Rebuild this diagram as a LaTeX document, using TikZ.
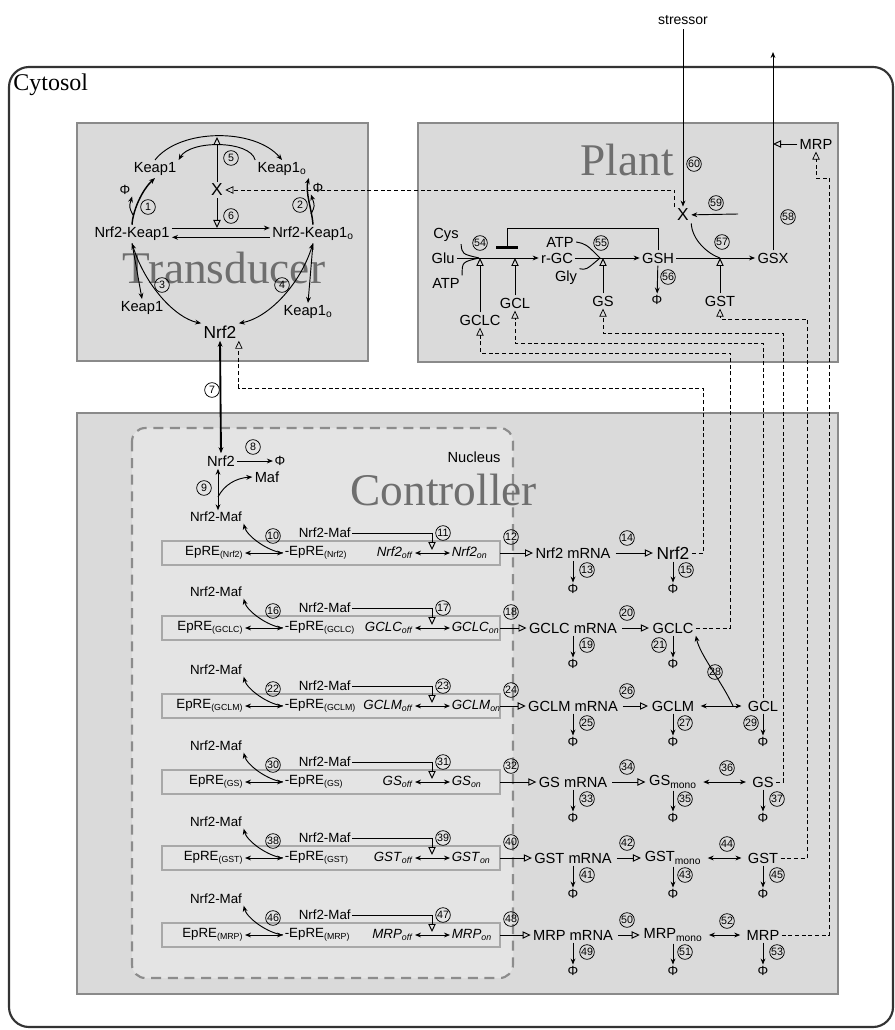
\documentclass[tikz,border=0pt]{standalone}
\usepackage{fontspec}
\setmainfont{Liberation Sans}
\newfontfamily\serifbig{Liberation Serif}
\usepackage{tikz}
\usetikzlibrary{arrows.meta}
\definecolor{panelfill}{HTML}{DADADA}
\definecolor{panelline}{HTML}{8A8A8A}
\definecolor{nucfill}{HTML}{E4E4E4}
\definecolor{nucline}{HTML}{8C8C8C}
\definecolor{rowline}{HTML}{A8A8A8}
\definecolor{biggray}{HTML}{6E6E6E}
\definecolor{cytoline}{HTML}{333333}
\newcommand{\lowsub}[1]{\textsubscript{\fontsize{6.6}{7}\selectfont #1}}
\tikzset{
    lbl/.style={inner sep=1.5pt, font=\fontsize{11}{12}\selectfont},
    rowtxt/.style={inner sep=1pt, font=\fontsize{10}{12}\selectfont},
    phi/.style={inner sep=1pt, font=\fontsize{10}{10}\selectfont},
    num/.style={circle, draw, line width=0.55pt, inner sep=0pt, minimum size=11pt, font=\fontsize{8}{8}\selectfont},
    act/.style={-{Triangle[open,length=6pt,width=5.5pt]}},
    dsh/.style={dashed, dash pattern=on 3pt off 2pt, line width=0.55pt},
    panel/.style={fill=panelfill, draw=panelline, line width=0.8pt},
    rowbox/.style={draw=rowline, line width=1.2pt},
    bigname/.style={text=biggray, inner sep=0pt, font=\serifbig\fontsize{34}{34}\selectfont},
}
\begin{document}
\begin{tikzpicture}[x=0.75pt, y=-0.75pt, >={Stealth[length=4.5pt,width=3.6pt]}, line width=0.7pt]
\useasboundingbox (0,0) rectangle (894,1030);

% compartments
\draw[line width=1.6pt, draw=cytoline, rounded corners=15pt] (9,67) rectangle (893,1027);
\node[anchor=west, inner sep=0pt, font=\serifbig\fontsize{18}{18}\selectfont] (cyto) at (13,85) {Cytosol};
\draw[panel] (77,123) rectangle (368,361);
\draw[panel] (418,123) rectangle (838,362);
\draw[panel] (77,413) rectangle (838,994);
\draw[dashed, dash pattern=on 7.5pt off 5pt, line width=1.6pt, draw=nucline, fill=nucfill, rounded corners=10pt] (132,428) rectangle (513,978);
\node[bigname] (tTrans) at (224,268) {Transducer};
\node[bigname] (tPlant) at (627,160) {Plant};
\node[bigname, anchor=west] (tCtrl) at (350,490) {Controller};
\node[lbl] (nucleus) at (474,457) {Nucleus};

% transducer
\node[lbl] (keapA) at (155,169) {Keap1};
\node[lbl] (keapB) at (282,169) {Keap1\textsubscript{o}};
\node[lbl] (nk) at (132,234) {Nrf2-Keap1};
\node[lbl] (nko) at (313,234) {Nrf2-Keap1\textsubscript{o}};
\node[lbl, font=\fontsize{13}{13}\selectfont] (xT) at (217,190) {X};
\node[lbl] (keapC) at (142,308) {Keap1};
\node[lbl] (keapD) at (308,312) {Keap1\textsubscript{o}};
\node[lbl, font=\fontsize{13}{13}\selectfont] (nrfT) at (220,332) {Nrf2};
\node[phi] (phiA) at (125,190) {Φ};
\node[phi] (phiB) at (318,188) {Φ};
\coordinate (r5) at (217,137);
\coordinate (d1) at (133,215);
\coordinate (d2) at (311,214);

\draw[->] (keapA.north) .. controls (180,128) and (255,128) .. (keapB.north);
\draw[->] (keapB.north west) .. controls (250,140) and (190,140) .. (keapA.north east);
\draw[act] (xT.north) -- (r5);
\draw[->] ([yshift=4.5pt]nk.east) -- ([yshift=4.5pt]nko.west);
\draw[->] ([yshift=-2.5pt]nko.west) -- ([yshift=-2.5pt]nk.east);
\draw[act] (xT.south) -- (xT.south |- 0,228);
\draw[->, line width=1.1pt] (nk.north) .. controls (133,210) and (142,190) .. (keapA.south);
\draw[->] (d1) .. controls (129,207) .. (phiA.south east);
\draw[->, line width=1.1pt] (nko.north) .. controls (312,210) and (305,192) .. (keapB.south east);
\draw[->] (d2) .. controls (315,206) .. (phiB.south west);
\draw[<->] (nk.south) .. controls (145,285) and (175,318) .. (nrfT.north west);
\draw[->] (nk.south) -- (keapC.north);
\draw[<->] (nko.south) .. controls (300,285) and (268,318) .. (nrfT.north east);
\draw[->] (nko.south) -- (keapD.north);
\node[num] at (148,207) {1};
\node[num] at (300,205) {2};
\node[num] at (162,285) {3};
\node[num] at (282,285) {4};
\node[num] at (231,158) {5};
\node[num] at (231,216) {6};

% plant
\node[font=\fontsize{10.5}{11}\selectfont] (stressor) at (683,20) {stressor};
\node[lbl, font=\fontsize{13}{13}\selectfont] (xP) at (683,215) {X};
\node[lbl] (cys) at (446,235) {Cys};
\node[lbl] (glu) at (443,258) {Glu};
\node[lbl] (atpA) at (446,283) {ATP};
\node[lbl] (rgc) at (557,258) {r-GC};
\node[lbl] (atpB) at (560,242) {ATP};
\node[lbl] (gly) at (566,278) {Gly};
\node[lbl] (gsh) at (658,258) {GSH};
\node[lbl] (gsx) at (773,258) {GSX};
\node[phi] (phiG) at (657,300) {Φ};
\node[lbl] (gclcP) at (480,320) {GCLC};
\node[lbl] (gclP) at (515,303) {GCL};
\node[lbl] (gsP) at (603,301) {GS};
\node[lbl] (gstP) at (720,301) {GST};
\node[lbl] (mrpP) at (816,144) {MRP};
\coordinate (m54) at (479,258);
\coordinate (m55) at (600,258);
\coordinate (m57) at (720,258);
\coordinate (inh) at (507,249);
\coordinate (c59) at (738,214);
\coordinate (exp) at (773,52);

\draw (cys.south east) .. controls (462,254) .. (m54);
\draw (atpA.north east) .. controls (462,262) .. (m54);
\draw[->] (glu) -- (rgc);
\draw[act] (gclcP.north) -- (gclcP.north |- glu);
\draw[act] (gclP.north) -- (gclP.north |- glu);
\draw[-{Bar[width=16pt,line width=2.2pt]}] (gsh.north) |- (507,228) -- (inh);
\draw (atpB.east) .. controls (586,244) .. (m55);
\draw (gly.north east) .. controls (586,270) .. (m55);
\draw[->] (rgc) -- (gsh);
\draw[act] (gsP.north) -- (gsP.north |- rgc);
\draw[->] (gsh) -- (phiG);
\draw[->] (gsh) -- (gsx);
\draw (xP.south east) .. controls (692,240) and (708,254) .. (m57);
\draw[act] (gstP.north) -- (gstP.north |- gsh);
\draw[->] (stressor) -- (xP);
\draw[->] (c59) -- (xP);
\draw[->] (gsx) -- (exp);
\draw[act] (mrpP) -- (mrpP -| gsx);
\draw[dsh, act] (xP.north west) |- (xT.east);
\node[num] at (480,243) {54};
\node[num] at (601,243) {55};
\node[num] at (668,277) {56};
\node[num] at (722,242) {57};
\node[num] at (788,217) {58};
\node[num] at (716,203) {59};
\node[num] at (694,164) {60};

% gene rows
\foreach \g/\y/\nA/\nB/\nC/\nD/\nE/\nF/\fx/\prot in {
    Nrf2/553/10/11/12/13/14/15/13/{\fontsize{13}{13}\selectfont Nrf2},
    GCLC/628/16/17/18/19/20/21/-14/GCLC,
    GCLM/706/22/23/24/25/26/27/12/GCLM,
    GS/782/30/31/32/33/34/35/12/{GS\textsubscript{mono}},
    GST/858/38/39/40/41/42/43/12/{GST\textsubscript{mono}},
    MRP/935/46/47/48/49/50/51/12/{MRP\textsubscript{mono}}}
{
    \draw[rowbox] (162,\y-12) rectangle (500,\y+12);
    \node[rowtxt, anchor=east] (epre\g) at (245,\y) {EpRE\lowsub{(\g)}};
    \node[rowtxt, anchor=west] (bnd\g) at (283,\y) {-EpRE\lowsub{(\g)}};
    \node[rowtxt, anchor=east] (off\g) at (415,\y) {\textit{\g}\lowsub{\textit{off}}};
    \node[rowtxt, anchor=west] (on\g) at (450,\y) {\textit{\g}\lowsub{\textit{on}}};
    \node[rowtxt] (mafa\g) at (216,\y-36) {Nrf2-Maf};
    \node[rowtxt, anchor=west] (mafb\g) at (297,\y-20) {Nrf2-Maf};
    \draw[<->] (epre\g) -- (bnd\g);
    \draw[<->] (off\g) -- (on\g);
    \draw[->] (bnd\g.west) .. controls +(-16,-2) and +(3,12) .. (mafa\g.south east);
    \draw[act] (mafb\g.east) -| (432,\y-3);
    \node[lbl] (m\g) at (573,\y) {\g\ mRNA};
    \node[lbl] (p\g) at (673,\y) {\prot};
    \node[phi] (phim\g) at (573,\y+36) {Φ};
    \node[phi] (phip\g) at (673,\y+36) {Φ};
    \draw[act] (500,\y) -- (m\g.west);
    \draw[act, shorten <=2pt, shorten >=1pt] (m\g.east) -- (m\g.east -| p\g.west);
    \draw[->] (m\g) -- (phim\g);
    \draw[->] (p\g) -- (phip\g);
    \node[num] at (273,\y-17) {\nA};
    \node[num] at (443,\y-20) {\nB};
    \node[num] at (511,\y-16) {\nC};
    \node[num] at (587,\y+17) {\nD};
    \node[num] at (627,\y-15) {\nE};
    \node[num] at (673+\fx,\y+17) {\nF};
}

% nucleus
\node[lbl] (nN) at (221,461) {Nrf2};
\node[phi] (phiN) at (280,461) {Φ};
\node[lbl] (maf) at (267,477) {Maf};
\coordinate (d9) at (218,497);
\draw[<->, line width=1.4pt] (nrfT.south) -- (nN.north);
\draw[->] (nN) -- (phiN);
\draw[<->] (nN.south -| d9) -- (mafaNrf2.north -| d9);
\draw[->] (d9) .. controls (224,485) and (236,478) .. (maf.west);
\node[num] at (212,390) {7};
\node[num] at (253,447) {8};
\node[num] at (204,488) {9};

% third column
\node[lbl] (gclC) at (763,706) {GCL};
\node[phi] (phigcl) at (763,742) {Φ};
\coordinate (c28) at (733,706);
\draw[<->, shorten <=3pt, shorten >=3pt] (pGCLM) -- (gclC);
\draw[->] (gclC) -- (phigcl);
\draw[->] (c28) .. controls (722,682) and (700,655) .. (pGCLC.south east);
\node[num] at (715,672) {28};
\node[num] at (751,723) {29};
\foreach \q/\y/\nA/\nB/\nC in {GS/782/36/37/gsC, GST/858/44/45/gstC, MRP/935/52/53/mrpC}
{
    \node[lbl] (\nC) at (763,\y) {\q};
    \node[phi] (phic\q) at (763,\y+36) {Φ};
    \draw[<->, shorten <=3pt, shorten >=3pt] (\nC.west -| p\q.east) -- (\nC.west);
    \draw[->] (\nC) -- (phic\q);
    \node[num] at (727,\y-14) {\nA};
    \node[num] at (777,\y+17) {\nB};
}

% feedback
\coordinate (lvNrf2) at (703,388);
\coordinate (lvGCLC) at (730,353);
\coordinate (lvGCL) at (757,343);
\coordinate (lvGS) at (783,333);
\coordinate (lvGST) at (807,319);
\coordinate (lvMRP) at (829,178);
\draw[dsh, act] (pNrf2.east) -| (lvNrf2) -| (nrfT.south east);
\draw[dsh, act] (pGCLC.east) -| (lvGCLC) -| (gclcP.south);
\draw[dsh, act] (gclC.north) -- (gclC.north |- lvGCL) -| (gclP.south);
\draw[dsh, act] (gsC.east) -| (lvGS) -| (gsP.south);
\draw[dsh, act] (gstC.east) -| (lvGST) -| (gstP.south);
\draw[dsh, act] (mrpC.east) -| (lvMRP) -| (mrpP.south);

\end{tikzpicture}
\end{document}
